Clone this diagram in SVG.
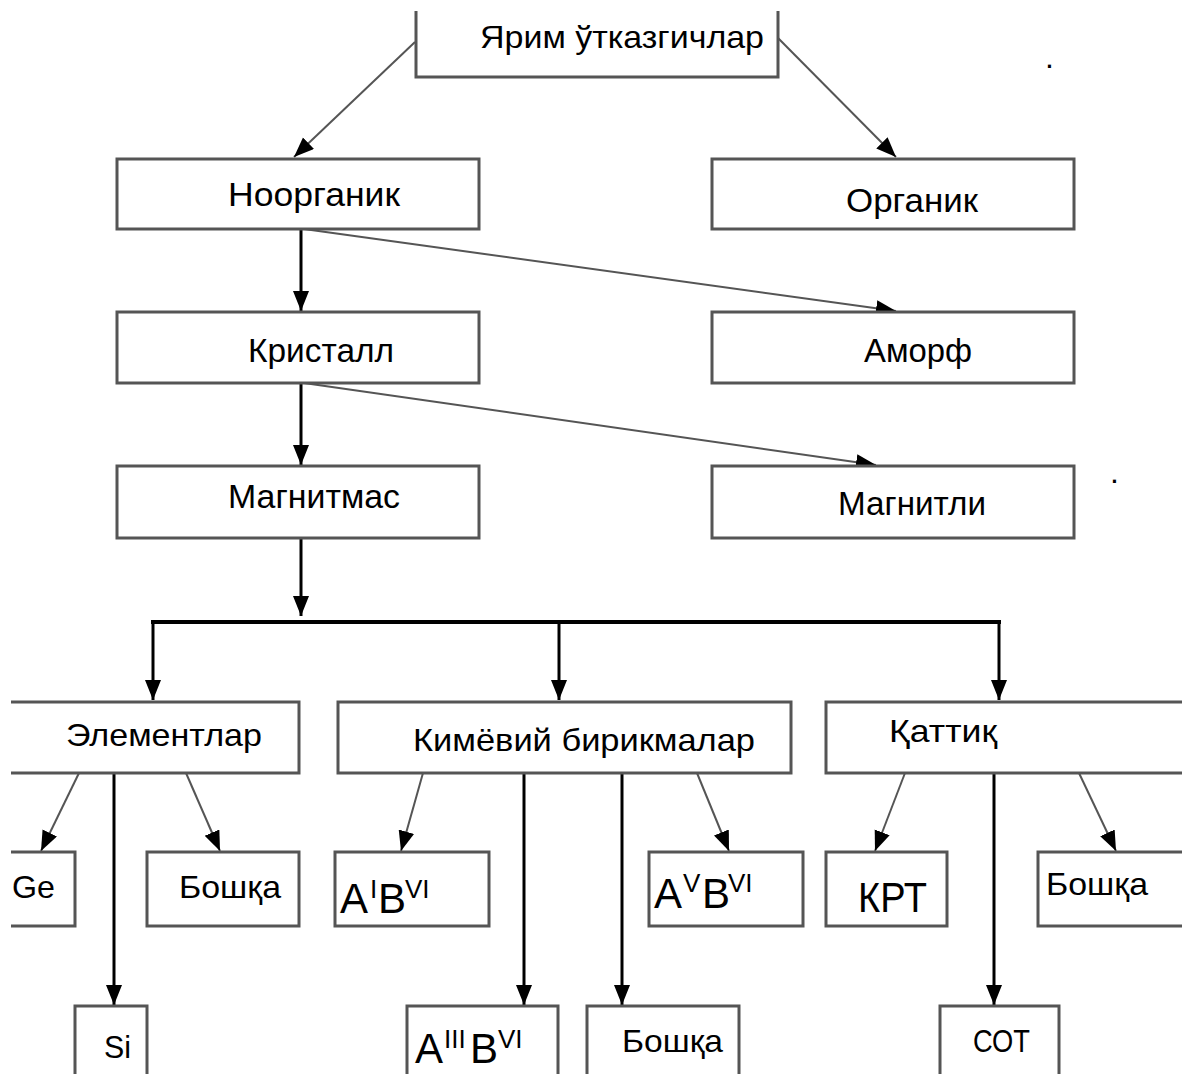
<svg xmlns="http://www.w3.org/2000/svg" width="1182" height="1074" viewBox="0 0 1182 1074">
<style>
.box{fill:#fff;stroke:#555;stroke-width:3}
.t{font-family:"Liberation Sans",Arial,sans-serif;font-size:32px;fill:#000}
.tu{font-family:"Liberation Sans",Arial,sans-serif;font-size:33px;fill:#000}
.big{font-family:"Liberation Sans",Arial,sans-serif;font-size:42px;fill:#000}
.sup{font-family:"Liberation Sans",Arial,sans-serif;font-size:26px;fill:#000}
.thin{stroke:#555;stroke-width:2;fill:none;marker-end:url(#ah)}
.thick{stroke:#000;stroke-width:3;fill:none;marker-end:url(#ah)}
.bar{stroke:#000;stroke-width:4;fill:none}
</style>
<defs>
<marker id="ah" markerUnits="userSpaceOnUse" markerWidth="22" markerHeight="18" refX="20" refY="8" orient="auto">
<path d="M0,0 L20,8 L0,16 z" fill="#000"/>
</marker>
</defs>
<rect width="1182" height="1074" fill="#fff"/>
<g id="connectors">
<line class="thin" x1="415" y1="42" x2="294" y2="157"/>
<line class="thin" x1="778" y1="38" x2="896" y2="157"/>
<line class="thin" x1="304" y1="229" x2="896" y2="311"/>
<line class="thin" x1="304" y1="383" x2="876" y2="465"/>
<line class="thick" x1="301" y1="229" x2="301" y2="311"/>
<line class="thick" x1="301" y1="383" x2="301" y2="465"/>
<line class="thick" x1="301" y1="539" x2="301" y2="616"/>
<line class="bar" x1="151" y1="622" x2="1001" y2="622"/>
<line class="thick" x1="153" y1="622" x2="153" y2="700"/>
<line class="thick" x1="559" y1="622" x2="559" y2="700"/>
<line class="thick" x1="999" y1="622" x2="999" y2="700"/>
<line class="thin" x1="79" y1="773" x2="41" y2="851"/>
<line class="thin" x1="186" y1="773" x2="220" y2="851"/>
<line class="thick" x1="114" y1="773" x2="114" y2="1005"/>
<line class="thin" x1="423" y1="773" x2="401" y2="851"/>
<line class="thin" x1="697" y1="773" x2="729" y2="851"/>
<line class="thick" x1="524" y1="773" x2="524" y2="1005"/>
<line class="thick" x1="622" y1="773" x2="622" y2="1005"/>
<line class="thin" x1="905" y1="773" x2="875" y2="851"/>
<line class="thin" x1="1079" y1="773" x2="1116" y2="851"/>
<line class="thick" x1="994" y1="773" x2="994" y2="1005"/>
</g>
<g id="n-root"><path class="box" d="M416,11 V77 H778 V11"/><text class="t" x="480" y="48" textLength="284" lengthAdjust="spacingAndGlyphs">Ярим ўтказгичлар</text></g>
<g id="n-noorganik"><rect class="box" x="117" y="159" width="362" height="70"/><text class="tu" x="228" y="206" textLength="172" lengthAdjust="spacingAndGlyphs">Ноорганик</text></g>
<g id="n-organik"><rect class="box" x="712" y="159" width="362" height="70"/><text class="tu" x="846" y="212" textLength="132" lengthAdjust="spacingAndGlyphs">Органик</text></g>
<g id="n-kristall"><rect class="box" x="117" y="312" width="362" height="71"/><text class="tu" x="248" y="362" textLength="146" lengthAdjust="spacingAndGlyphs">Кристалл</text></g>
<g id="n-amorf"><rect class="box" x="712" y="312" width="362" height="71"/><text class="tu" x="864" y="362" textLength="108" lengthAdjust="spacingAndGlyphs">Аморф</text></g>
<g id="n-magnitmas"><rect class="box" x="117" y="466" width="362" height="72"/><text class="tu" x="228" y="508" textLength="172" lengthAdjust="spacingAndGlyphs">Магнитмас</text></g>
<g id="n-magnitli"><rect class="box" x="712" y="466" width="362" height="72"/><text class="tu" x="838" y="515" textLength="148" lengthAdjust="spacingAndGlyphs">Магнитли</text></g>
<g id="n-elementlar"><path class="box" d="M11,702 H299 V773 H11"/><text class="t" x="66" y="746" textLength="196" lengthAdjust="spacingAndGlyphs">Элементлар</text></g>
<g id="n-kimyoviy"><rect class="box" x="338" y="702" width="453" height="71"/><text class="t" x="413" y="751" textLength="342" lengthAdjust="spacingAndGlyphs">Кимёвий бирикмалар</text></g>
<g id="n-qattiq"><rect class="box" x="826" y="702" width="400" height="71"/><text class="t" x="889" y="742" textLength="108" lengthAdjust="spacingAndGlyphs">Қаттиқ</text></g>
<g id="n-ge"><path class="box" d="M11,852 H75 V926 H11"/><text class="t" x="12" y="898" textLength="43" lengthAdjust="spacingAndGlyphs">Ge</text></g>
<g id="n-boshqa1"><rect class="box" x="147" y="852" width="152" height="74"/><text class="t" x="179" y="898" textLength="102" lengthAdjust="spacingAndGlyphs">Бошқа</text></g>
<g id="n-si"><rect class="box" x="75" y="1006" width="72" height="80"/><text class="t" x="104" y="1058" textLength="27" lengthAdjust="spacingAndGlyphs">Si</text></g>
<g id="n-aibvi"><rect class="box" x="335" y="852" width="154" height="74"/><text class="big" x="340" y="913">A</text><text class="sup" x="370" y="898">I</text><text class="big" x="378" y="913">B</text><text class="sup" x="405" y="898">VI</text></g>
<g id="n-avbvi"><rect class="box" x="649" y="852" width="154" height="74"/><text class="big" x="654" y="908">A</text><text class="sup" x="683" y="892">V</text><text class="big" x="702" y="908">B</text><text class="sup" x="728" y="892">VI</text></g>
<g id="n-aiiibvi"><rect class="box" x="407" y="1006" width="151" height="80"/><text class="big" x="415" y="1063">A</text><text class="sup" x="444" y="1048">III</text><text class="big" x="470" y="1063">B</text><text class="sup" x="498" y="1048">VI</text></g>
<g id="n-boshqa2"><rect class="box" x="587" y="1006" width="152" height="80"/><text class="t" x="622" y="1052" textLength="101" lengthAdjust="spacingAndGlyphs">Бошқа</text></g>
<g id="n-krt"><rect class="box" x="826" y="852" width="121" height="74"/><text class="big" x="858" y="912" textLength="69" lengthAdjust="spacingAndGlyphs">КРТ</text></g>
<g id="n-boshqa3"><rect class="box" x="1038" y="852" width="200" height="74"/><text class="t" x="1046" y="895" textLength="102" lengthAdjust="spacingAndGlyphs">Бошқа</text></g>
<g id="n-sot"><rect class="box" x="940" y="1006" width="119" height="80"/><text class="t" x="973" y="1052" textLength="57" lengthAdjust="spacingAndGlyphs">СОТ</text></g>
<text class="t" x="1045" y="68" font-size="16">.</text>
<text class="t" x="1110" y="483" font-size="16">.</text>
</svg>
